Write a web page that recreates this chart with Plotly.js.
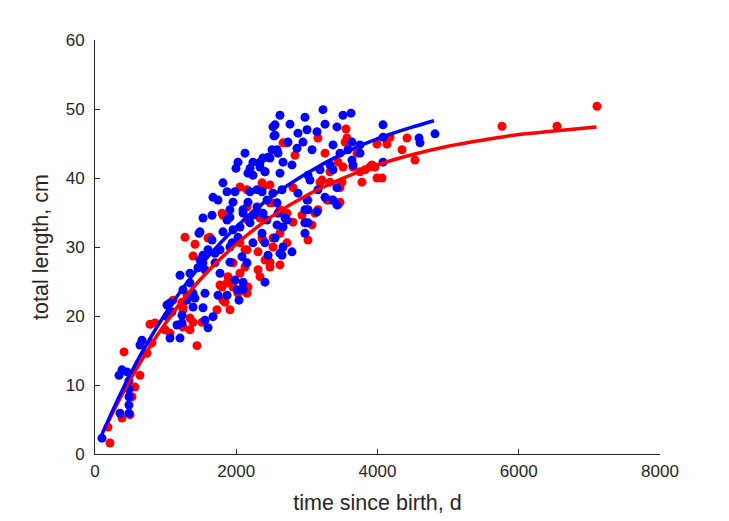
<!DOCTYPE html>
<html>
<head>
<meta charset="utf-8">
<script src="https://cdn.plot.ly/plotly-3.0.1.min.js"></script>
<style>html,body{margin:0;padding:0;background:#fff;}#chart{width:729px;height:521px;}</style>
</head>
<body>
<div id="chart"></div>
<script>
// Red group (time since birth, d ; total length, cm)
var redT = [212,184,382,496,524,566,637,411,736,807,779,1444,1274,1416,1388,1628,1232,1303,1246,1345,1515,1727,1911,1841,2053,1954,2096,2025,1062,850,991,1345,1770,1869,2053,2124,2053,2365,2478,1798,2166,2619,1600,2662,2407,2152,2506,2336,2719,2931,3115,2973,3073,2803,3016,2619,2719,2520,2365,2152,2308,2478,2619,2308,2336,2166,2152,2124,3157,3540,3441,3356,3214,3497,2803,3327,3469,2719,2832,3554,3993,4134,3710,3894,3752,3993,4064,3780,3327,3186,3285,3441,3016,3257,3568,3511,3653,3823,3964,4347,4418,4531,3327,3469,3157,4177,5763,6541,7108,3922,1812,2152,2379,2478,2520,2379,2407,2478,1883,1954,1812,1388,1246,1246,1104,1798];
var redL = [1.6,3.9,5.2,5.7,8.3,9.7,11.4,14.8,14.6,16.1,18.8,15.7,31.4,30.4,28.7,31.4,22.0,23.0,20.9,19.7,19.1,20.9,20.9,22.0,26.2,27.7,24.1,23.3,17.5,19.0,18.0,18.0,24.5,24.8,30.6,29.6,38.7,39.3,39.0,34.9,33.9,35.4,31.3,45.1,40.9,35.8,36.4,34.2,34.9,34.6,34.9,33.5,33.2,33.6,31.0,32.0,30.6,31.3,31.3,29.6,29.3,27.8,27.4,26.7,25.7,24.2,23.3,27.1,45.8,45.2,42.3,41.2,39.7,39.4,38.6,36.8,36.5,45.1,43.3,47.1,44.9,44.9,43.6,41.6,40.9,40.0,40.0,39.4,40.9,39.4,36.8,36.1,36.8,43.6,45.8,41.6,41.6,41.2,41.6,44.1,45.8,42.6,39.4,38.6,35.4,45.9,47.5,47.5,50.4,41.9,34.6,38.3,38.7,36.4,30.0,31.0,28.1,27.1,25.7,24.2,22.3,19.1,21.3,18.4,22.3,24.2];

// Blue group
var blueT = [99,354,481,481,481,481,481,453,340,382,665,637,1062,1204,1161,1232,1062,1019,1473,1657,1529,1487,1600,1770,1940,2025,1204,1345,1458,1557,1770,1699,1911,1982,2096,2039,1869,1742,1557,1416,1246,1388,1529,1671,1557,1600,1232,1090,1345,2124,2025,2195,2237,2166,2336,2450,2506,2591,2549,2662,1812,1869,1982,2195,2365,2520,2648,1671,1742,1954,2166,2294,2435,2577,1911,2096,2237,1529,1657,1869,2053,2195,2435,2577,2690,1487,1812,1954,2365,2096,2265,2379,2591,2719,2973,3143,3426,2662,2973,2973,2407,2549,2662,2789,2619,2450,2237,2152,2081,2407,2096,3228,3511,2619,2973,2761,2549,3257,3426,2874,3002,2733,2945,3143,2860,3073,2577,2478,2336,2407,2619,2789,3016,3186,3327,3469,3044,3426,3157,2874,2294,3625,4078,4078,3752,3639,3257,3016,2648,3639,3752,3370,3582,3653,3370,3370,3002,3016,4814,4588,4602,4078,2520,2534,1996,2237,2379,1911,1911,1699,1529,2011,1388,1303,1062,1019];
var blueL = [2.3,5.9,5.9,7.1,8.3,9.4,10.6,11.9,11.4,12.2,16.5,15.8,16.8,16.8,18.7,19.0,20.4,21.6,32.0,31.0,28.8,28.1,29.6,29.6,30.6,31.4,25.9,26.2,27.0,26.7,26.2,27.7,27.8,25.2,24.9,22.3,23.0,23.0,23.3,22.6,23.8,21.3,21.2,19.9,19.4,18.3,20.1,20.6,24.8,43.6,42.3,41.4,42.3,40.7,41.6,43.0,44.1,43.6,46.2,42.3,39.3,38.0,38.0,38.0,38.0,37.8,38.3,37.2,36.8,36.5,36.5,35.8,36.8,36.4,35.4,34.9,34.6,34.2,34.6,33.9,32.9,33.5,33.9,33.2,34.2,32.2,32.2,32.5,32.0,35.4,34.9,34.9,34.9,33.9,35.4,35.1,36.1,32.9,33.5,32.0,30.6,31.3,30.0,29.3,29.1,28.8,30.6,27.7,28.6,24.9,23.8,49.9,49.1,49.1,48.8,47.8,47.7,47.8,47.4,46.5,47.0,45.2,45.2,46.7,44.3,44.1,44.1,42.9,42.3,40.9,40.7,41.9,40.4,41.2,41.9,43.6,39.7,38.6,38.3,37.8,38.3,49.4,47.7,42.3,43.6,42.6,37.2,33.5,28.8,45.2,44.8,44.8,44.1,41.9,41.2,36.8,36.8,35.4,46.4,45.8,45.1,45.9,47.4,46.1,41.4,40.4,42.9,34.3,30.0,29.1,27.7,23.8,23.3,22.3,21.9,19.9];

// Fitted growth curves
var redFitT = [165,500,1000,1500,2000,2500,3000,3500,4000,4500,5000,5500,6000,6500,7100];
var redFitL = [4.2,10.8,19.0,25.4,30.4,34.4,37.5,39.9,41.9,43.4,44.6,45.5,46.3,46.8,47.4];
var blueFitT = [70,500,1000,1500,2000,2500,3000,3500,4000,4500,4800];
var blueFitL = [2.2,11.6,20.4,27.4,32.9,37.3,40.7,43.5,45.7,47.4,48.3];

var xTicks = [0,2000,4000,6000,8000];
var yTicks = [0,10,20,30,40,50,60];

var RED = '#ff0000', BLUE = '#0000ff', AX = '#262626';
var FONT = 'Liberation Sans, Arial, Helvetica, sans-serif';

var traces = [
  {x: redT, y: redL, mode: 'markers', type: 'scatter', marker: {color: RED, size: 9}, hoverinfo: 'skip'},
  {x: blueT, y: blueL, mode: 'markers', type: 'scatter', marker: {color: BLUE, size: 9}, hoverinfo: 'skip'},
  {x: redFitT, y: redFitL, mode: 'lines', type: 'scatter', line: {color: RED, width: 3.5, shape: 'spline'}, hoverinfo: 'skip'},
  {x: blueFitT, y: blueFitL, mode: 'lines', type: 'scatter', line: {color: BLUE, width: 3.5, shape: 'spline'}, hoverinfo: 'skip'}
];

var layout = {
  width: 729, height: 521,
  margin: {l: 95, r: 69, t: 40, b: 67},
  paper_bgcolor: '#ffffff', plot_bgcolor: '#ffffff',
  showlegend: false,
  font: {family: FONT, color: AX, size: 17},
  xaxis: {
    range: [0, 8000], tickvals: xTicks, ticktext: xTicks.map(String),
    showgrid: false, zeroline: false, showline: true, linecolor: AX, linewidth: 1,
    ticks: 'inside', ticklen: 5, tickcolor: AX, tickfont: {size: 17, color: AX},
    ticklabelstandoff: 2,
    title: {text: 'time since birth, d', font: {size: 21.5, color: AX}, standoff: 14},
    automargin: false
  },
  yaxis: {
    range: [0, 60], tickvals: yTicks, ticktext: yTicks.map(String),
    showgrid: false, zeroline: false, showline: true, linecolor: AX, linewidth: 1,
    ticks: 'inside', ticklen: 5, tickcolor: AX, tickfont: {size: 17, color: AX},
    ticklabelstandoff: 6,
    title: {text: 'total length, cm', font: {size: 21.5, color: AX}, standoff: 11},
    automargin: false
  }
};

Plotly.newPlot('chart', traces, layout, {staticPlot: true, displayModeBar: false});
</script>
</body>
</html>
